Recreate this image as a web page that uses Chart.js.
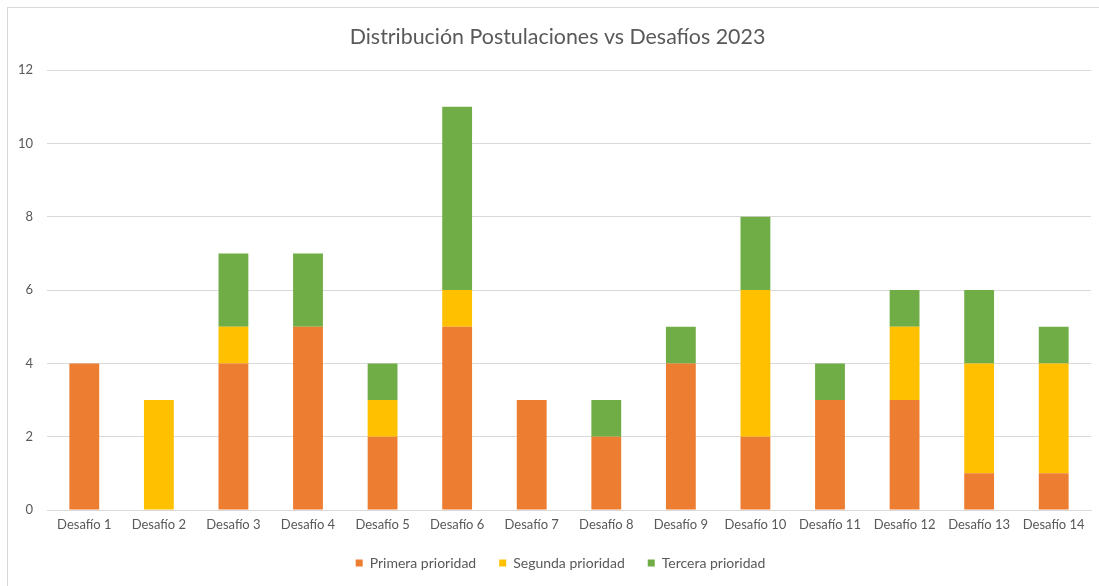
<!DOCTYPE html>
<html>
<head>
<meta charset="utf-8">
<script src="https://cdn.jsdelivr.net/npm/chart.js@4/dist/chart.umd.min.js"></script>
<style>
  html, body { margin: 0; padding: 0; background: #ffffff; }
  #frame { position: absolute; left: 7px; top: 7px; width: 1200px; height: 700px; border: 1px solid #D9D9D9; }
  #wrap { position: absolute; left: 0; top: 0; width: 1099px; height: 586px; }
</style>
</head>
<body>
<div id="frame"></div>
<div id="wrap"><canvas id="c" width="1099" height="586"></canvas></div>
<script>
const categories = ["Desafío 1","Desafío 2","Desafío 3","Desafío 4","Desafío 5","Desafío 6","Desafío 7","Desafío 8","Desafío 9","Desafío 10","Desafío 11","Desafío 12","Desafío 13","Desafío 14"];
const primera = [4, 0, 4, 5, 2, 5, 3, 2, 4, 2, 3, 3, 1, 1];
const segunda = [0, 3, 1, 0, 1, 1, 0, 0, 0, 4, 0, 2, 3, 3];
const tercera = [0, 0, 2, 2, 1, 5, 0, 1, 1, 2, 1, 1, 2, 1];
const seriesNames = ["Primera prioridad", "Segunda prioridad", "Tercera prioridad"];
const titleText = "Distribución Postulaciones vs Desafíos 2023";

const FONT = "Lato, 'Open Sans', sans-serif";
const TXT = "#595959";

// Centre title and legend over the framed chart (frame begins at x=7)
const shiftBlocks = {
  id: "shiftBlocks",
  afterLayout(chart) {
    if (chart.titleBlock) { chart.titleBlock.left = 24; }
    if (chart.legend) { chart.legend.left = 30; }
  }
};

new Chart(document.getElementById("c"), {
  type: "bar",
  data: {
    labels: categories,
    datasets: [
      { label: seriesNames[0], data: primera, backgroundColor: "#ED7D31" },
      { label: seriesNames[1], data: segunda, backgroundColor: "#FFC000" },
      { label: seriesNames[2], data: tercera, backgroundColor: "#70AD47" }
    ]
  },
  plugins: [shiftBlocks],
  options: {
    responsive: false,
    animation: false,
    devicePixelRatio: 1,
    layout: { padding: { left: 0, right: 8, top: 0, bottom: 6 } },
    datasets: { bar: { barPercentage: 0.4, categoryPercentage: 1.0, borderWidth: 0 } },
    plugins: {
      title: {
        display: true, text: titleText, color: TXT,
        font: { family: FONT, size: 21.4, weight: "normal" },
        padding: { top: 24, bottom: 20.5 }
      },
      legend: {
        position: "bottom",
        labels: {
          color: TXT, boxWidth: 7, boxHeight: 7, padding: 23,
          font: { family: FONT, size: 14, lineHeight: 1.0 }
        }
      },
      tooltip: { enabled: false }
    },
    scales: {
      x: {
        stacked: true,
        grid: { display: false, drawTicks: false },
        border: { display: true, color: "#D9D9D9" },
        ticks: { color: TXT, font: { family: FONT, size: 13 }, padding: 7, maxRotation: 0 },
        afterFit: (s) => { s.height = 23; }
      },
      y: {
        stacked: true,
        min: 0, max: 12,
        grid: { color: "#D9D9D9", drawTicks: false },
        border: { display: false },
        ticks: { stepSize: 2, color: TXT, font: { family: FONT, size: 13 }, padding: 14 },
        afterFit: (s) => { s.width = 47; }
      }
    }
  }
});
</script>
</body>
</html>
